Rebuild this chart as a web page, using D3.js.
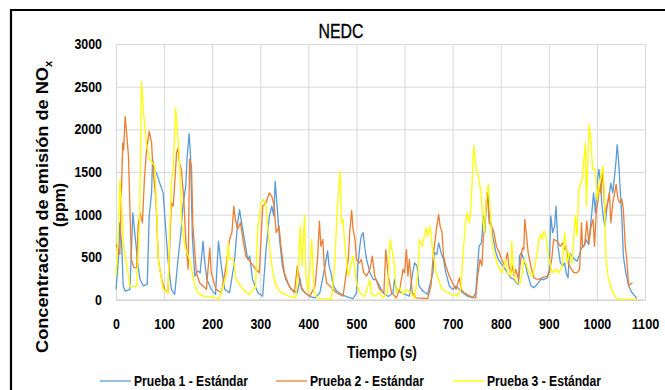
<!DOCTYPE html>
<html>
<head>
<meta charset="utf-8">
<script src="https://cdn.jsdelivr.net/npm/d3@7"></script>
<style>
  html, body { margin: 0; padding: 0; background: #fff; }
  svg { display: block; }
  .lbl { font-family: "Liberation Sans", Arial, sans-serif; font-weight: bold; fill: #000; }
</style>
</head>
<body>
<svg id="chart" width="665" height="390"></svg>
<script>
// NOx emission traces over the NEDC cycle, three standard runs
const timeP1 = [0,5,8,12,15,19,29,35,39,46,50,57,65,69,74,76,79,84,91,98,103,108,115,122,129,135,139,145,148,152,155,159,164,170,175,181,184,189,198,207,213,219,226,236,246,253,257,260,267,274,278,284,295,305,312,319,324,328,331,335,340,346,353,364,377,383,386,393,403,414,424,432,437,440,443,447,452,459,469,479,493,500,503,507,510,514,517,521,528,535,541,548,555,566,576,579,583,593,610,617,621,626,630,638,648,659,662,667,671,676,681,686,693,700,707,714,721,731,742,748,755,760,764,767,771,773,776,780,784,790,795,800,807,814,821,828,832,837,839,843,848,852,855,859,863,869,876,883,890,897,901,904,908,912,915,919,924,929,933,936,940,943,948,954,959,964,968,973,977,983,990,993,997,1000,1004,1007,1010,1014,1017,1021,1024,1029,1033,1036,1040,1042,1045,1048,1052,1055,1060,1066,1073,1080,1083];
const noxP1 = [125,475,905,630,165,105,125,1020,790,400,240,165,185,985,1255,1650,1530,1490,1370,1255,865,475,125,65,475,790,1100,1335,1685,1950,1685,710,280,340,320,690,475,240,125,65,690,400,125,85,435,905,1060,945,710,475,515,240,85,45,590,985,1100,985,1390,1100,710,400,240,125,85,250,125,85,40,25,85,320,475,575,400,320,165,105,65,40,15,85,400,630,750,790,630,475,320,240,240,165,85,40,85,240,125,85,45,320,435,400,165,105,65,320,555,535,670,555,475,320,165,125,165,125,85,45,25,85,630,670,985,790,1255,1270,1000,880,730,555,475,435,380,320,260,240,200,185,515,555,475,400,320,240,165,145,185,240,240,260,360,985,790,865,1100,630,435,400,435,320,260,555,515,475,455,535,610,630,710,650,1060,1255,1020,1335,1530,1410,1140,945,865,1100,1180,1370,1255,1410,1645,1820,1645,1335,945,515,320,165,85,40,15];

const timeP2 = [0,4,8,14,16,19,22,26,29,32,37,43,46,50,55,59,63,69,74,77,83,88,95,101,108,115,119,123,126,129,132,136,141,145,150,153,157,160,167,174,188,195,198,208,219,229,236,241,245,248,253,259,264,270,281,291,298,305,312,319,324,329,333,339,343,350,360,371,377,384,393,403,414,419,423,426,430,433,438,448,459,472,483,486,490,493,497,500,506,510,515,521,528,533,538,548,557,561,566,573,583,590,597,600,604,607,610,616,624,648,655,659,662,667,671,674,678,681,686,693,700,707,714,718,724,738,748,752,757,761,764,767,769,772,776,781,786,791,797,802,807,810,814,817,821,824,828,831,837,840,845,848,850,853,857,860,864,869,876,886,897,901,906,910,917,924,929,933,936,940,945,952,959,964,968,970,975,979,983,988,992,995,999,1002,1005,1008,1012,1015,1017,1021,1026,1029,1033,1037,1040,1044,1048,1052,1055,1059,1062,1066,1069,1074];
const noxP2 = [650,590,535,1840,1760,2150,1960,1680,1060,475,380,380,865,1020,905,1410,1725,1980,1840,1530,1180,475,240,125,85,1140,1100,1450,1725,1780,1610,1530,1180,710,360,1650,1570,865,320,200,125,610,320,125,85,400,710,790,1100,945,830,905,710,515,435,360,320,1100,1140,1255,1215,1100,790,865,630,320,165,85,400,165,85,45,165,475,925,630,710,400,200,145,85,45,475,790,1050,825,710,475,435,475,320,280,360,515,280,125,85,590,280,85,25,125,360,320,590,280,475,85,25,15,165,475,630,865,1000,865,790,515,400,280,200,125,260,125,85,40,25,280,475,400,750,865,1060,1255,905,865,790,630,555,475,415,455,555,400,320,400,280,360,240,400,610,590,945,790,555,475,360,260,240,260,280,320,475,710,690,630,670,590,630,435,380,320,320,360,905,630,650,925,670,865,945,630,1060,1140,1335,1255,1530,1180,1020,1100,1255,905,1140,1255,1355,1180,1140,1180,1060,630,475,165,185,200];

const timeP3 = [0,4,8,12,16,19,24,29,43,49,53,57,63,70,81,88,98,108,115,119,124,128,132,136,143,153,164,170,181,195,215,230,233,236,244,250,264,277,290,295,302,307,312,319,326,333,343,360,374,380,383,387,392,395,400,407,412,417,424,448,455,460,466,469,472,476,483,493,500,507,517,528,531,538,548,555,564,570,575,579,583,590,597,604,612,621,628,631,637,642,645,648,653,659,666,673,679,690,700,710,717,721,726,730,735,738,742,744,749,753,759,762,766,770,774,778,783,790,797,803,810,814,821,823,826,830,834,841,845,848,852,859,866,871,876,879,883,886,890,893,897,900,907,914,921,928,933,938,943,948,955,959,962,969,973,976,978,981,984,988,991,997,1000,1005,1009,1012,1015,1019,1024,1031,1035,1041,1059,1083];
const noxP3 = [280,700,1410,1100,600,515,350,160,160,900,2560,2230,1840,1650,1570,475,125,85,1370,1530,2250,1960,1650,945,630,475,165,85,45,40,15,300,670,475,475,240,125,65,150,865,1140,1180,1100,630,320,165,85,45,25,500,865,400,985,280,85,710,85,45,15,8,435,1060,1510,905,945,630,280,515,200,85,40,240,85,45,85,25,85,710,555,400,85,145,65,125,85,25,320,710,630,770,845,750,865,555,320,200,125,85,60,45,125,475,865,1020,905,1080,1570,1810,1530,1470,1255,1020,790,1180,1355,1060,600,475,360,320,475,320,280,690,400,240,200,200,320,475,435,320,280,400,555,710,770,710,810,770,630,475,320,360,320,400,790,435,555,435,985,750,1295,1410,1645,1840,1100,1645,2055,1840,1530,1530,1180,1335,1450,1570,1335,475,240,125,65,15,8,8];

const seriesNames = ["Prueba 1 - Estándar", "Prueba 2 - Estándar", "Prueba 3 - Estándar"];
const seriesColors = ["#5B9BD5", "#ED7D31", "#FFFF00"];
const xTicks = [0,100,200,300,400,500,600,700,800,900,1000,1100];
const yTicks = [0,500,1000,1500,2000,2500,3000];

const series = [
  { name: seriesNames[0], color: seriesColors[0], t: timeP1, v: noxP1 },
  { name: seriesNames[1], color: seriesColors[1], t: timeP2, v: noxP2 },
  { name: seriesNames[2], color: seriesColors[2], t: timeP3, v: noxP3 }
];

const svg = d3.select("#chart");
const plot = { left: 116, right: 645, top: 44, bottom: 300 };

const x = d3.scaleLinear().domain([0, 1100]).range([plot.left, plot.right]);
const y = d3.scaleLinear().domain([0, 3000]).range([plot.bottom, plot.top]);

// narrow digit width, to keep the condensed look of the labels
const digitW = 6.9;

// outer frame (top and left edges)
svg.append("path")
  .attr("d", "M11,390 L11,10 L665,10")
  .attr("fill", "none").attr("stroke", "#000").attr("stroke-width", 2.2);

// gridlines
const gx = svg.append("g").attr("transform", `translate(0,${plot.bottom})`)
  .call(d3.axisBottom(x).tickValues(xTicks).tickSize(-(plot.bottom - plot.top)).tickFormat(""));
gx.selectAll(".tick line").attr("stroke", "#d9d9d9").attr("stroke-width", 1);
gx.select(".domain").remove();

const gy = svg.append("g").attr("transform", `translate(${plot.left},0)`)
  .call(d3.axisLeft(y).tickValues(yTicks).tickSize(-(plot.right - plot.left)).tickFormat(""));
gy.selectAll(".tick line").attr("stroke", "#d9d9d9").attr("stroke-width", 1);
gy.select(".domain").remove();

// baseline
svg.append("line")
  .attr("x1", plot.left).attr("x2", plot.right)
  .attr("y1", y(0)).attr("y2", y(0))
  .attr("stroke", "#d0d0d0").attr("stroke-width", 1.2);

// tick labels
const xl = svg.append("g").attr("transform", `translate(0,${plot.bottom})`)
  .call(d3.axisBottom(x).tickValues(xTicks).tickSize(0).tickPadding(19).tickFormat(d3.format("d")));
xl.select(".domain").remove();
xl.selectAll("text").attr("class", "lbl").style("font-size", "14px").attr("fill", "#000")
  .attr("textLength", d => String(d).length * digitW).attr("lengthAdjust", "spacingAndGlyphs");

const yl = svg.append("g").attr("transform", `translate(${plot.left},0)`)
  .call(d3.axisLeft(y).tickValues(yTicks).tickSize(0).tickPadding(14).tickFormat(d3.format("d")));
yl.select(".domain").remove();
yl.selectAll("text").attr("class", "lbl").style("font-size", "14px").attr("fill", "#000")
  .attr("textLength", d => String(d).length * digitW).attr("lengthAdjust", "spacingAndGlyphs");

// data lines
const line = d3.line().x(d => x(d[0])).y(d => y(d[1]));
series.forEach(s => {
  const pts = s.t.map((t, i) => [t, s.v[i]]);
  svg.append("path")
    .datum(pts)
    .attr("d", line)
    .attr("fill", "none")
    .attr("stroke", s.color)
    .attr("stroke-width", 1.3)
    .attr("stroke-linejoin", "round");
});

// title
svg.append("text")
  .attr("x", 341).attr("y", 38)
  .attr("text-anchor", "middle")
  .attr("textLength", 45).attr("lengthAdjust", "spacingAndGlyphs")
  .attr("stroke", "#000").attr("stroke-width", 0.35)
  .style("font-family", "\"Liberation Sans\", Arial, sans-serif")
  .style("font-size", "21px")
  .text("NEDC");

// axis titles
svg.append("text")
  .attr("class", "lbl")
  .attr("x", 382).attr("y", 358)
  .attr("text-anchor", "middle")
  .attr("textLength", 70).attr("lengthAdjust", "spacingAndGlyphs")
  .style("font-size", "16px")
  .text("Tiempo (s)");

const yt = svg.append("g").attr("transform", "translate(48,205) rotate(-90)");
const yt1 = yt.append("text").attr("class", "lbl").attr("x", -148).attr("y", 0)
  .style("font-size", "16px");
yt1.append("tspan")
  .attr("textLength", 286).attr("lengthAdjust", "spacingAndGlyphs")
  .text("Concentración de emisión de NO");
yt1.append("tspan").attr("dy", 4).style("font-size", "11px").text("x");
yt.append("text").attr("class", "lbl").attr("x", 0).attr("y", 17)
  .attr("text-anchor", "middle")
  .attr("textLength", 44).attr("lengthAdjust", "spacingAndGlyphs")
  .style("font-size", "16px").text("(ppm)");

// legend
const legendX = [100, 276, 453];
series.forEach((s, i) => {
  const g = svg.append("g").attr("transform", `translate(${legendX[i]},381)`);
  g.append("line").attr("x1", 0).attr("x2", 31).attr("y1", 0).attr("y2", 0)
    .attr("stroke", s.color).attr("stroke-width", 1.3);
  g.append("text").attr("class", "lbl").attr("x", 34).attr("y", 5)
    .attr("textLength", 114).attr("lengthAdjust", "spacingAndGlyphs")
    .style("font-size", "14px").text(s.name);
});
</script>
</body>
</html>
